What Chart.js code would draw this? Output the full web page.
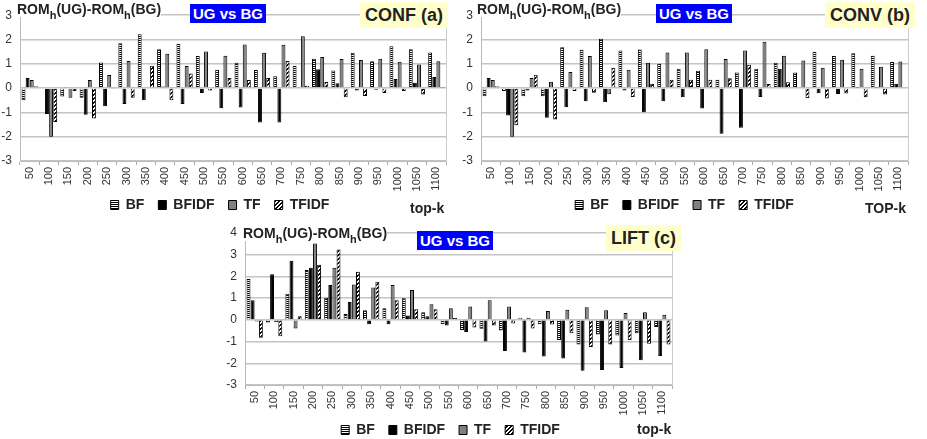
<!DOCTYPE html>
<html>
<head>
<meta charset="utf-8">
<script src="https://cdn.jsdelivr.net/npm/chart.js"></script>
<style>
  body { margin:0; background:#fff; width:927px; height:439px; overflow:hidden; position:relative; font-family:'Liberation Sans', Arial, sans-serif; }
  canvas { position:absolute; }
  .t { position:absolute; font-weight:bold; color:#222; font-size:14px; line-height:15px; white-space:nowrap; background:#fff; }
  .t sub { font-size:11px; line-height:0; vertical-align:-5px; }
  .ug { position:absolute; background:#0000ff; color:#fff; font-weight:bold; font-size:15px; line-height:19px; padding:0 3px; white-space:nowrap; }
  .tag { position:absolute; background:#ffffcc; color:#222; font-weight:bold; font-size:18px; line-height:26px; padding:0 5px; white-space:nowrap; }
  .k { position:absolute; font-weight:bold; font-size:14px; line-height:14px; color:#222; white-space:nowrap; }
</style>
</head>
<body>
<canvas id="ca" width="460" height="230" style="left:0;top:0"></canvas>
<canvas id="cb" width="461" height="230" style="left:461px;top:0"></canvas>
<canvas id="cc" width="476" height="239" style="left:210px;top:215px"></canvas>

<div class="t" style="left:17px;top:2px">ROM<sub>h</sub>(UG)-ROM<sub>h</sub>(BG)</div>
<div class="ug" style="left:190px;top:4px">UG vs BG</div>
<div class="tag" style="left:360px;top:2px">CONF (a)</div>
<div class="k" style="left:410px;top:201px">top-k</div>

<div class="t" style="left:477px;top:2px">ROM<sub>h</sub>(UG)-ROM<sub>h</sub>(BG)</div>
<div class="ug" style="left:656px;top:4px">UG vs BG</div>
<div class="tag" style="left:825px;top:2px">CONV (b)</div>
<div class="k" style="left:865px;top:201px">TOP-k</div>

<div class="t" style="left:243px;top:226px">ROM<sub>h</sub>(UG)-ROM<sub>h</sub>(BG)</div>
<div class="ug" style="left:417px;top:231px">UG vs BG</div>
<div class="tag" style="left:606px;top:225px">LIFT (c)</div>
<div class="k" style="left:637px;top:422px">top-k</div>

<script>
// x categories
const topK = ['50','100','150','200','250','300','350','400','450','500','550',
              '600','650','700','750','800','850','900','950','1000','1050','1100'];

// (a) CONF
const confBF    = [-0.5,-0.03,-0.35,-0.4,1.05,1.85,2.22,1.6,1.83,1.32,0.76,1.04,0.74,0.49,0.91,1.21,0.72,1.45,1.1,1.72,1.6,1.47];
const confBFIDF = [0.42,-1.07,0.02,-1.1,-0.75,-0.65,-0.5,0.07,-0.65,-0.2,-0.83,-0.8,-1.42,-1.42,0.02,0.78,0.2,-0.1,-0.07,0.37,0.22,0.46];
const confTF    = [0.33,-2.0,-0.4,0.33,0.54,1.12,0.03,1.41,0.91,1.51,1.33,1.79,1.45,1.78,2.13,1.28,1.2,1.16,1.21,1.08,0.97,1.1];
const confTFIDF = [0.08,-1.4,-0.12,-1.25,-0.02,-0.4,0.92,-0.5,0.6,-0.1,0.42,0.33,0.42,1.12,0.1,0.25,-0.38,-0.33,-0.2,-0.12,-0.26,0.01];

// (b) CONV
const convBF    = [-0.34,-0.12,-0.34,-0.34,1.68,1.58,2.03,1.55,1.59,1.0,0.8,0.71,0.34,0.64,0.8,1.04,0.64,1.5,1.32,1.43,1.33,1.07];
const convBFIDF = [0.42,-1.13,-0.1,-1.22,-0.79,-0.54,-0.58,-0.1,-0.99,-0.54,-0.38,-0.84,-1.88,-1.63,-0.37,0.8,0.03,-0.21,-0.24,0.01,0.01,0.18];
const convTF    = [0.33,-2.0,0.42,0.26,0.66,1.32,-0.25,0.76,1.04,1.46,1.46,1.6,1.2,1.55,1.91,1.33,1.14,0.84,1.17,0.8,0.88,1.09];
const convTFIDF = [0.08,-1.53,0.55,-1.29,-0.12,-0.19,0.84,-0.37,0.18,0.34,0.34,0.34,0.41,0.96,0.17,0.24,-0.42,-0.43,-0.22,-0.38,-0.26,0.0];

// (c) LIFT
const liftBF    = [1.88,-0.12,1.2,2.3,1.02,0.27,0.44,0.53,1.0,0.35,-0.2,-0.47,-0.41,-0.49,0.1,-0.2,-0.93,-1.13,-0.67,-0.72,-0.62,-0.33];
const liftBFIDF = [0.9,2.1,2.72,2.4,1.6,0.82,-0.2,-0.2,0.2,0.17,-0.26,-0.56,-1.0,-1.43,-1.5,-1.69,-1.78,-2.34,-2.31,-2.22,-1.86,-1.67];
const liftTF    = [-0.08,-0.1,-0.4,3.52,2.4,1.63,1.49,1.6,1.37,0.72,0.53,0.61,0.9,0.61,0.1,0.41,0.46,0.58,0.44,0.32,0.35,0.24];
const liftTFIDF = [-0.82,-0.75,0.17,2.54,3.24,2.22,1.75,0.9,0.49,0.49,0.08,-0.35,-0.26,-0.17,-0.4,-0.21,-0.62,-1.25,-1.13,-0.94,-1.1,-1.14];

Chart.defaults.font.family = "'Liberation Sans', Arial, sans-serif";

// fill patterns for the bars
function pattern(kind) {
  var c = document.createElement('canvas');
  c.width = 4; c.height = kind == 'h' ? 2 : 4;
  var g = c.getContext('2d');
  g.fillStyle = '#fff';
  g.fillRect(0, 0, c.width, c.height);
  g.fillStyle = '#000';
  if (kind == 'h') {
    g.fillRect(0, 0, 4, 1);
  } else {
    for (var i = 0; i < 4; i++) {
      g.fillRect(3 - i, i, 1, 1);
      g.fillRect((4 - i) % 4, i, 1, 1);
    }
  }
  return g.createPattern(c, 'repeat');
}
var hPat = pattern('h');
var dPat = pattern('d');

// move the legend up into the bottom of the tick-label band
var legendNudge = {
  id: 'legendNudge',
  afterLayout: function(chart, args, opts) {
    var l = chart.legend;
    l.top += opts.dy; l.bottom += opts.dy;
    l.left += opts.dx; l.right += opts.dx;
  }
};

function sets(bf, bfidf, tf, tfidf) {
  return [
    { label:'BF',    data:bf,    backgroundColor:hPat,      borderColor:'#000', borderWidth:1 },
    { label:'BFIDF', data:bfidf, backgroundColor:'#000',    borderColor:'#000', borderWidth:1 },
    { label:'TF',    data:tf,    backgroundColor:'#808080', borderColor:'#000', borderWidth:1 },
    { label:'TFIDF', data:tfidf, backgroundColor:dPat,      borderColor:'#000', borderWidth:1 }
  ];
}

function makeChart(id, datasets, yMin, yMax, pad, dy, dx) {
  return new Chart(document.getElementById(id), {
    type: 'bar',
    data: { labels: topK, datasets: datasets },
    plugins: [legendNudge],
    options: {
      responsive: false,
      animation: false,
      layout: { padding: pad },
      datasets: { bar: { categoryPercentage: 0.85, barPercentage: 0.95 } },
      plugins: {
        legend: {
          position: 'bottom',
          labels: { font: { size: 14, weight: 'bold' }, color: '#222', boxWidth: 8, boxHeight: 9, padding: 14 }
        },
        legendNudge: { dy: dy, dx: dx },
        tooltip: { enabled: false }
      },
      scales: {
        x: {
          grid: { offset: true, drawOnChartArea: false, tickLength: 4, color: '#aaa' },
          border: { color: '#bbb' },
          ticks: { autoSkip: false, minRotation: 90, maxRotation: 90, padding: 2, font: { size: 11 }, color: '#333' },
          afterFit: function(s) { s.height = 31; }
        },
        y: {
          min: yMin, max: yMax,
          ticks: { stepSize: 1, padding: 8, font: { size: 12 }, color: '#333' },
          grid: { color: '#c4c4c4', lineWidth: 1.5, drawTicks: false },
          border: { color: '#bbb' },
          afterFit: function(s) { s.width = 20; }
        },
        yR: {
          position: 'right', min: yMin, max: yMax,
          ticks: { display: false },
          grid: { drawOnChartArea: false, drawTicks: false },
          border: { color: '#ccc' },
          afterFit: function(s) { s.width = 0; }
        }
      }
    }
  });
}

makeChart('ca', sets(confBF, confBFIDF, confTF, confTFIDF), -3, 3, { top: 10, right: 14, left: 0, bottom: 0 }, -8, -3);
makeChart('cb', sets(convBF, convBFIDF, convTF, convTFIDF), -3, 3, { top: 10, right: 14, left: 0, bottom: 0 }, -8, 0);
makeChart('cc', sets(liftBF, liftBFIDF, liftTF, liftTFIDF), -3, 4, { top: 18, right: 14, left: 15, bottom: 0 }, -7, 2);
</script>
</body>
</html>
